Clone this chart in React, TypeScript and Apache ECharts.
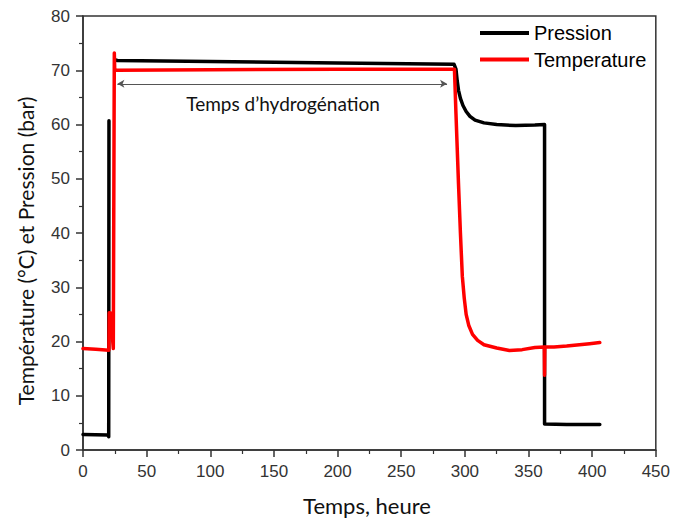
import React, { useEffect, useRef } from "react";
import * as echarts from "echarts";

const pressureTime = [0, 10, 19.5, 20.2, 20.4, 20.9, 23, 25.5, 27, 100, 200, 291.5, 293, 294, 295, 296.5, 298.5, 301, 304, 308, 315, 325, 340, 355, 362.6, 362.6, 380, 406];
const pressureValues = [2.85, 2.8, 2.75, 2.45, 60.7, 60.7, null, 71.9, 71.8, 71.6, 71.35, 71.1, 70.2, 68, 66.3, 64.8, 63.5, 62.4, 61.5, 60.8, 60.3, 60.0, 59.8, 59.9, 60.0, 4.8, 4.7, 4.7];

const temperatureTime = [0, 10, 20.3, 20.6, 22, 23.2, 23.8, 24.6, 24.9, 26, 100, 200, 291.8, 293, 295, 296.5, 298, 299.5, 301, 303, 306, 310, 315, 325, 335, 345, 355, 362.4, 362.6, 362.8, 370, 380, 390, 398, 406];
const temperatureValues = [18.7, 18.55, 18.4, 25.3, 25.2, 20.5, 18.7, 73.2, 70.2, 70.0, 70.1, 70.2, 70.2, 62, 49, 40, 32, 28, 25, 23, 21.3, 20.2, 19.4, 18.8, 18.35, 18.5, 18.9, 19.0, 13.8, 19.0, 19.0, 19.15, 19.4, 19.6, 19.8];

const seriesNames = ["Pression", "Temperature"];
const arrowStart = [27, 67.5];
const arrowEnd = [286, 67.5];
const annotationText = "Temps d\u2019hydrogénation";
const xAxisTitle = "Temps, heure";
const yAxisTitle = "Température (°C) et Pression (bar)";

const zip = (xs: number[], ys: (number | null)[]) => xs.map((x, i) => [x, ys[i]]);

export default function App() {
  const ref = useRef<HTMLDivElement>(null);
  useEffect(() => {
    if (!ref.current) return;
    const chart = echarts.init(ref.current, null, { renderer: "svg" });
    const tickFont = { fontFamily: "Liberation Sans", fontSize: 17, color: "#333" };
    const axisCommon = {
      type: "value" as const,
      axisLine: { show: true, lineStyle: { color: "#333", width: 1.5 } },
      axisTick: { show: true, inside: false, length: 7, lineStyle: { color: "#333", width: 1.5 } },
      minorTick: { show: true, splitNumber: 2, length: 4, lineStyle: { color: "#333", width: 1.2 } },
      splitLine: { show: false },
      axisLabel: { ...tickFont, margin: 13 },
    };
    chart.setOption({
      animation: false,
      backgroundColor: "#fff",
      grid: {
        left: 83, top: 16, width: 574, height: 434,
        show: true, borderColor: "#333", borderWidth: 1.5, backgroundColor: "transparent",
      },
      legend: {
        data: seriesNames,
        orient: "vertical",
        left: 475,
        top: 18,
        icon: "rect",
        itemWidth: 49,
        itemHeight: 4,
        itemGap: 6.5,
        textStyle: { fontFamily: "Liberation Sans", fontSize: 20, lineHeight: 20, color: "#000" },
      },
      xAxis: { ...axisCommon, min: 0, max: 450, interval: 50 },
      yAxis: { ...axisCommon, min: 0, max: 80, interval: 10 },
      series: [
        {
          name: seriesNames[0],
          type: "line",
          data: zip(pressureTime, pressureValues),
          showSymbol: false,
          symbol: "none",
          connectNulls: false,
          color: "#000",
          lineStyle: { color: "#000", width: 3.5, cap: "round", join: "round" },
          z: 2,
          markLine: {
            silent: true,
            symbol: ["arrow", "arrow"],
            symbolSize: [6, 7],
            label: { show: false },
            lineStyle: { color: "#555", width: 1, type: "solid" },
            data: [[{ coord: arrowStart }, { coord: arrowEnd }]],
          },
        },
        {
          name: seriesNames[1],
          type: "line",
          data: zip(temperatureTime, temperatureValues),
          showSymbol: false,
          symbol: "none",
          color: "#ff0000",
          lineStyle: { color: "#ff0000", width: 3.5, cap: "round", join: "round" },
          z: 3,
        },
      ],
      graphic: [
        {
          type: "text",
          x: 283,
          y: 103,
          style: { text: annotationText, fontFamily: "Lato", fontSize: 19, fill: "#111", textAlign: "center", textVerticalAlign: "middle" },
        },
        {
          type: "text",
          x: 367,
          y: 505,
          style: { text: xAxisTitle, fontFamily: "Lato", fontSize: 22, fill: "#111", textAlign: "center", textVerticalAlign: "middle" },
        },
        {
          type: "text",
          x: 25,
          y: 251,
          rotation: Math.PI / 2,
          style: { text: yAxisTitle, fontFamily: "Lato", fontSize: 21, fill: "#111", textAlign: "center", textVerticalAlign: "middle" },
        },
      ],
    });
    return () => chart.dispose();
  }, []);
  return <div ref={ref} style={{ position: "fixed", left: 0, top: 0, width: 673, height: 518 }} />;
}
